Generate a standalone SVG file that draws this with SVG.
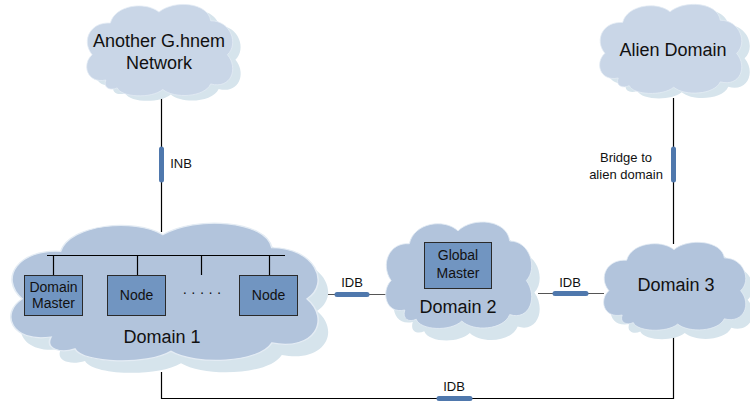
<svg xmlns="http://www.w3.org/2000/svg" width="750" height="402" viewBox="0 0 750 402">
<defs>
<path id="cloud" d="M 30,100 C 5,105 -2,80 12,68 C -3,50 10,26 36,28 C 42,5 82,0 100,14 C 120,-2 165,2 168,25 C 195,25 205,55 190,68 C 205,85 195,112 168,105 C 160,122 120,124 105,112 C 90,124 50,122 45,110 C 36,114 26,110 30,100 Z"/>
</defs>
<style>
.sh{fill:#d6e4ec}
.cd{fill:#b2c4dc;stroke:#e4ecf4;stroke-width:1;vector-effect:non-scaling-stroke}
.cl{fill:#c9d6e7;stroke:#e4ecf4;stroke-width:1;vector-effect:non-scaling-stroke}
.box{fill:#7195c1;stroke:#2a2a2a;stroke-width:1}
.ln{stroke:#000;stroke-width:1.2;fill:none}
.gl{stroke:#555;stroke-width:1.2;fill:none}
.bar{stroke:#4f78ad;stroke-width:5;stroke-linecap:round;fill:none}
text{font-family:"Liberation Sans",Arial,sans-serif;fill:#111;text-anchor:middle}
.s13{font-size:13px}
.s14{font-size:14px}
.s18{font-size:18px}
</style>

<g id="connectors">
<line class="ln" x1="161.5" y1="98" x2="161.5" y2="232"/>
<line class="bar" x1="161.5" y1="149" x2="161.5" y2="180"/>
<line class="ln" x1="673.5" y1="98" x2="673.5" y2="244"/>
<line class="bar" x1="673.5" y1="149" x2="673.5" y2="180"/>
<polyline class="ln" points="161.5,372 161.5,398.5 673.5,398.5 673.5,336"/>
<line class="bar" x1="439" y1="398.5" x2="470" y2="398.5"/>
<line class="gl" x1="320" y1="294.5" x2="386" y2="294.5"/>
<line class="bar" x1="337" y1="294.5" x2="367" y2="294.5"/>
<line class="gl" x1="538" y1="293.5" x2="604" y2="293.5"/>
<line class="bar" x1="555" y1="293.5" x2="586" y2="293.5"/>
<text class="s13" x="181" y="168">INB</text>
<text class="s13" x="626" y="162">Bridge to</text>
<text class="s13" x="626" y="179">alien domain</text>
<text class="s13" x="352" y="287">IDB</text>
<text class="s13" x="570" y="287">IDB</text>
<text class="s13" x="454" y="391">IDB</text>
</g>

<g id="another-network">
<use href="#cloud" class="sh" transform="translate(91,6) scale(0.76,0.79)"/>
<use href="#cloud" class="cl" transform="translate(83,1) scale(0.76,0.79)"/>
<text class="s18" x="159" y="47">Another G.hnem</text>
<text class="s18" x="159" y="69">Network</text>
</g>

<g id="alien-domain">
<use href="#cloud" class="sh" transform="translate(604,6) scale(0.74,0.77)"/>
<use href="#cloud" class="cl" transform="translate(596,1) scale(0.74,0.77)"/>
<text class="s18" x="673" y="56">Alien Domain</text>
</g>

<g id="domain1">
<use href="#cloud" class="sh" transform="translate(13,230) scale(1.6,1.19)"/>
<use href="#cloud" class="cd" transform="translate(3,218) scale(1.6,1.19)"/>
<line class="ln" x1="47" y1="255.5" x2="285" y2="255.5" stroke="#222"/>
<line class="ln" x1="53.5" y1="255.5" x2="53.5" y2="275"/>
<line class="ln" x1="137.5" y1="255.5" x2="137.5" y2="275"/>
<line class="ln" x1="201.5" y1="255.5" x2="201.5" y2="275"/>
<line class="ln" x1="269.5" y1="255.5" x2="269.5" y2="275"/>
<g id="domain-master">
<rect class="box" x="24.5" y="275.5" width="58" height="40"/>
<text class="s14" x="53.5" y="292">Domain</text>
<text class="s14" x="53.5" y="308">Master</text>
</g>
<g id="node-a">
<rect class="box" x="107.5" y="275.5" width="58" height="40"/>
<text class="s14" x="136.5" y="300">Node</text>
</g>
<g id="node-b">
<rect class="box" x="239.5" y="275.5" width="58" height="40"/>
<text class="s14" x="268.5" y="300">Node</text>
</g>
<text class="s14" x="202" y="297">· · · · ·</text>
<text class="s18" x="162" y="343">Domain 1</text>
</g>

<g id="domain2">
<use href="#cloud" class="sh" transform="translate(390,230) scale(0.76,0.92)"/>
<use href="#cloud" class="cd" transform="translate(382,218) scale(0.76,0.92)"/>
<g id="global-master">
<rect class="box" x="424.5" y="242.5" width="67" height="46"/>
<text class="s14" x="458" y="260">Global</text>
<text class="s14" x="458" y="278">Master</text>
</g>
<text class="s18" x="458" y="313">Domain 2</text>
</g>

<g id="domain3">
<use href="#cloud" class="sh" transform="translate(607,248) scale(0.74,0.76)"/>
<use href="#cloud" class="cd" transform="translate(600,239) scale(0.74,0.76)"/>
<text class="s18" x="676" y="291">Domain 3</text>
</g>
</svg>
